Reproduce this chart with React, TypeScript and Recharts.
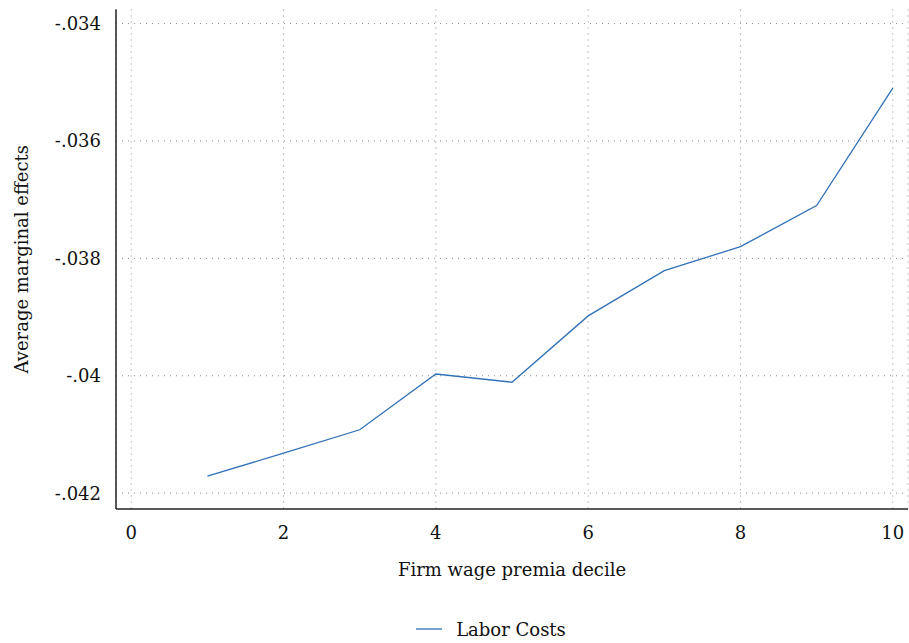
import React from 'react';
import { LineChart, Line, XAxis, YAxis, CartesianGrid, Legend, ReferenceLine } from 'recharts';

const deciles = [1, 2, 3, 4, 5, 6, 7, 8, 9, 10];
const laborCosts = [-0.04171, -0.04132, -0.04092, -0.03997, -0.04011, -0.03898, -0.03821, -0.0378, -0.0371, -0.0351];
const xTicks = [0, 2, 4, 6, 8, 10];
const yTicks = [-0.042, -0.04, -0.038, -0.036, -0.034];
const yTickLabels = ['-.042', '-.04', '-.038', '-.036', '-.034'];

const data = deciles.map((d, i) => ({ decile: d, labor: laborCosts[i] }));

const FONT = 'DejaVu Serif';
const BLUE = '#3171b8';
const GRID = '#8c8c8c';

const fmtY = (v: number) => {
  const i = yTicks.findIndex((t) => Math.abs(t - v) < 1e-9);
  return i >= 0 ? yTickLabels[i] : String(v);
};

// legend sits a bit right of the page centre, like the original
const LegendBox = () => (
  <div style={{ height: 26, paddingLeft: 74, display: 'flex', justifyContent: 'center', alignItems: 'center', fontFamily: FONT, fontSize: 18, color: '#111' }}>
    <svg width={26} height={4} style={{ marginRight: 14 }}>
      <line x1={0} y1={2} x2={26} y2={2} stroke={BLUE} strokeWidth={1.3} />
    </svg>
    <span>Labor Costs</span>
  </div>
);

export default function App() {
  return (
    <div style={{ position: 'absolute', left: 0, top: 0, width: 909, height: 643, background: '#fff' }}>
      <LineChart width={909} height={643} data={data} margin={{ top: 9.5, right: 1, bottom: 1, left: 0 }}>
        <CartesianGrid stroke={GRID} strokeDasharray="1 5" horizontal={false} />
        {/* horizontal grid only at the y ticks */}
        {yTicks.map((t) => (
          <ReferenceLine key={t} y={t} stroke={GRID} strokeDasharray="1 5" />
        ))}
        <XAxis
          dataKey="decile"
          type="number"
          domain={[-0.2, 10.2]}
          ticks={xTicks}
          height={107}
          tickLine={false}
          tickSize={0}
          tickMargin={17}
          axisLine={{ stroke: '#222', strokeWidth: 1.5 }}
          tick={{ fill: '#111', fontFamily: FONT, fontSize: 18 }}
          label={({ viewBox }: any) => (
            <text x={viewBox.x + viewBox.width / 2} y={viewBox.y + 67} textAnchor="middle" fontFamily={FONT} fontSize={18} fill="#111">
              Firm wage premia decile
            </text>
          )}
        />
        <YAxis
          type="number"
          domain={[-0.04227, -0.03376]}
          ticks={yTicks}
          width={116}
          tickLine={false}
          tickSize={0}
          tickMargin={15}
          tickFormatter={fmtY}
          axisLine={{ stroke: '#222', strokeWidth: 1.5 }}
          tick={{ fill: '#111', fontFamily: FONT, fontSize: 18 }}
          label={({ viewBox }: any) => {
            const cx = 28;
            const cy = viewBox.y + viewBox.height / 2;
            return (
              <text x={cx} y={cy} transform={`rotate(-90 ${cx} ${cy})`} textAnchor="middle" fontFamily={FONT} fontSize={18} fill="#111">
                Average marginal effects
              </text>
            );
          }}
        />
        <Legend verticalAlign="bottom" content={() => <LegendBox />} />
        <Line type="linear" dataKey="labor" name="Labor Costs" stroke={BLUE} strokeWidth={1.3} dot={false} isAnimationActive={false} />
      </LineChart>
    </div>
  );
}
